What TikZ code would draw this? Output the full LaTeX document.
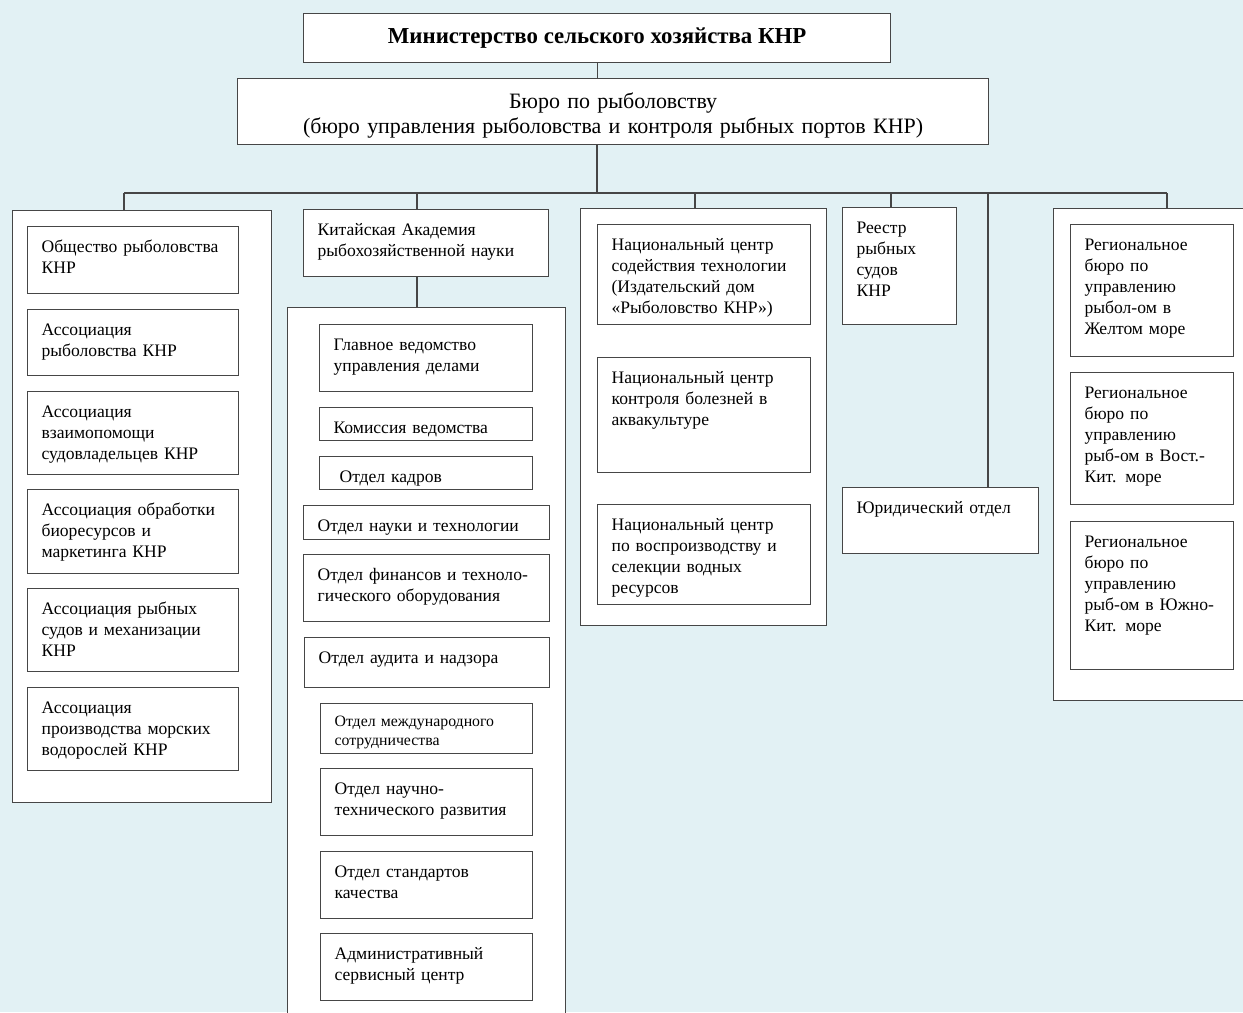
\documentclass[tikz,border=0pt]{standalone}
\usepackage{fontspec}
\setmainfont{Liberation Serif}

\definecolor{paper}{RGB}{226,241,244}
\definecolor{rule}{RGB}{70,70,70}

\tikzset{
	frame/.style={draw=rule, line width=0.7pt, fill=white},
	link/.style={draw=rule, line width=0.7pt},
	group/.style 2 args={frame, anchor=north west, inner sep=0pt,
		minimum width=#1*0.02cm, minimum height=#2*0.02cm},
	head/.style 2 args={group={#1}{#2}, align=center},
	cell/.style 2 args={frame, anchor=north west, inner xsep=0.28cm, inner ysep=0pt,
		align=left, font=\fontsize{10}{12}\selectfont,
		/utils/exec={\pgfmathsetlengthmacro\cellw{(#1-28)*0.02cm}%
			\pgfmathsetlengthmacro\celld{(#2-26)*0.02cm}},
		text width=\cellw, text height=0.52cm, text depth=\celld},
}

\begin{document}
\begin{tikzpicture}[x=0.02cm, y=-0.02cm]
	\fill[paper] (0,0) rectangle (1243,1012);
	\clip (0,0) rectangle (1243,1012);

	% top of the chart
	\node[head={587}{49}, font=\fontsize{13}{15}\selectfont\bfseries] (ministry) at (303,13) {Министерство сельского хозяйства КНР};
	\node[cell={751}{66}, align=center, font=\fontsize{12.5}{14.2}\selectfont, text height=0.6cm, text depth=0.72cm] (bureau) at (237,78) {Бюро по рыболовству\\(бюро управления рыболовства и контроля рыбных портов КНР)};

	% societies and associations
	\node[group={259}{592}] (assoc) at (12,210) {};
	\node[cell={211}{67}] (obshch) at (27,226) {Общество рыболовства\\КНР};
	\node[cell={211}{66}] (asrybol) at (27,309) {Ассоциация\\рыболовства КНР};
	\node[cell={211}{83}] (asvzaim) at (27,391) {Ассоциация\\взаимопомощи\\судовладельцев КНР};
	\node[cell={211}{84}] (asobrab) at (27,489) {Ассоциация обработки\\биоресурсов и\\маркетинга КНР};
	\node[cell={211}{83}] (assudov) at (27,588) {Ассоциация рыбных\\судов и механизации\\КНР};
	\node[cell={211}{83}] (asvodor) at (27,687) {Ассоциация\\производства морских\\водорослей КНР};

	% academy
	\node[cell={245}{67}] (academy) at (303,209) {Китайская Академия\\рыбохозяйственной науки};
	\node[group={278}{730}] (acadgrp) at (287,307) {};
	\node[cell={213}{67}] (glav) at (319,324) {Главное ведомство\\управления делами};
	\node[cell={213}{33}] (komis) at (319,407) {Комиссия ведомства};
	\node[cell={213}{33}] (kadry) at (319,456) {\hspace{0.12cm}Отдел кадров};
	\node[cell={246}{34}] (nauka) at (303,505) {Отдел науки и технологии};
	\node[cell={246}{67}] (finans) at (303,554) {Отдел финансов и техноло-\\гического оборудования};
	\node[cell={245}{50}] (audit) at (304,637) {Отдел аудита и надзора};
	\node[cell={212}{50}, font=\fontsize{9}{10.8}\selectfont, text height=0.46cm, text depth=0.54cm] (mezhd) at (320,703) {Отдел международного\\сотрудничества};
	\node[cell={212}{67}] (nauchn) at (320,768) {Отдел научно-\\технического развития};
	\node[cell={212}{67}] (standart) at (320,851) {Отдел стандартов\\качества};
	\node[cell={212}{67}] (admin) at (320,933) {Административный\\сервисный центр};

	% national centres
	\node[group={246}{417}] (natgrp) at (580,208) {};
	\node[cell={213}{100}] (nattech) at (597,224) {Национальный центр\\содействия технологии\\(Издательский дом\\«Рыболовство КНР»)};
	\node[cell={213}{115}] (natbol) at (597,357) {Национальный центр\\контроля болезней в\\аквакультуре};
	\node[cell={213}{100}] (natvosp) at (597,504) {Национальный центр\\по воспроизводству и\\селекции водных\\ресурсов};

	% register and legal department
	\node[cell={114}{117}] (reestr) at (842,207) {Реестр\\рыбных\\судов\\КНР};
	\node[cell={196}{66}] (yurid) at (842,487) {Юридический отдел};

	% regional bureaus
	\node[group={210}{492}] (reggrp) at (1053,208) {};
	\node[cell={163}{132}] (regzhelt) at (1070,224) {Региональное\\бюро по\\управлению\\рыбол-ом в\\Желтом море};
	\node[cell={163}{132}] (regvost) at (1070,372) {Региональное\\бюро по\\управлению\\рыб-ом в Вост.-\\Кит. море};
	\node[cell={163}{148}] (regyuzh) at (1070,521) {Региональное\\бюро по\\управлению\\рыб-ом в Южно-\\Кит. море};

	% connectors
	\coordinate (bus) at (597,193);
	\coordinate (busL) at (124,193);
	\coordinate (busR) at (1167,193);
	\coordinate (dAcad) at (417,193);
	\coordinate (dNat) at (695,193);
	\coordinate (dReestr) at (891,193);
	\coordinate (dYurid) at (988,193);

	\draw[link] (ministry.south) -- (ministry.south |- bureau.north);
	\draw[link] (bus |- bureau.south) -- (bus);
	\draw[link] (busL) -- (busR);
	\draw[link] (busL) -- (busL |- assoc.north);
	\draw[link] (dAcad) -- (dAcad |- academy.north);
	\draw[link] (dNat) -- (dNat |- natgrp.north);
	\draw[link] (dReestr) -- (dReestr |- reestr.north);
	\draw[link] (dYurid) -- (dYurid |- yurid.north);
	\draw[link] (busR) -- (busR |- reggrp.north);
	\draw[link] (dAcad |- academy.south) -- (dAcad |- acadgrp.north);
\end{tikzpicture}
\end{document}
